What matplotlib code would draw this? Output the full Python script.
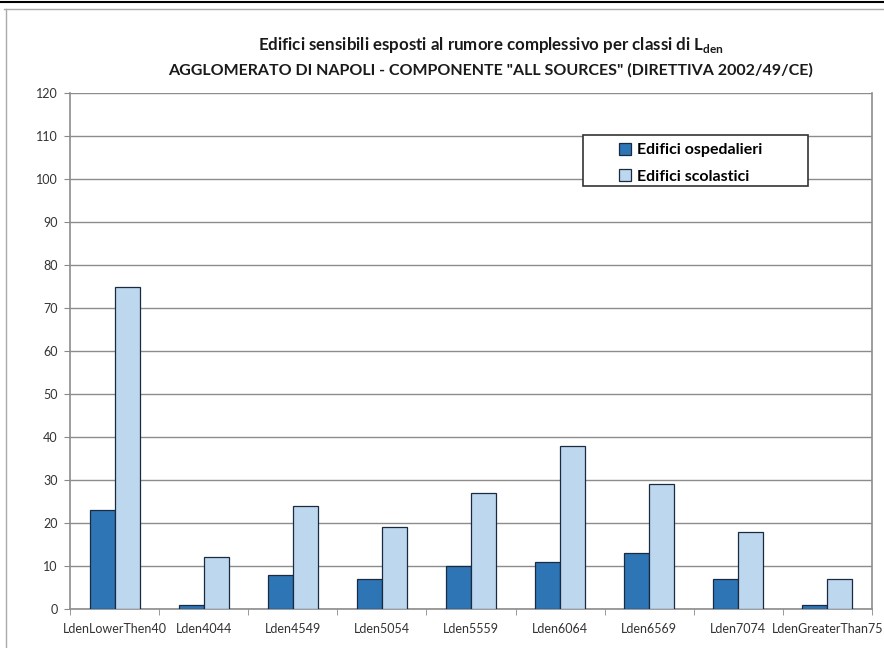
import numpy as np
import matplotlib
matplotlib.use('Agg')
import matplotlib.pyplot as plt
from matplotlib.lines import Line2D
from matplotlib.patches import Rectangle

plt.rcParams['font.family'] = ['Lato', 'DejaVu Sans']
plt.rcParams['mathtext.fontset'] = 'custom'
plt.rcParams['mathtext.rm'] = 'Lato'
plt.rcParams['mathtext.bf'] = 'Lato:bold'

classes = ['LdenLowerThen40', 'Lden4044', 'Lden4549', 'Lden5054', 'Lden5559',
           'Lden6064', 'Lden6569', 'Lden7074', 'LdenGreaterThan75']
ospedalieri = [23, 1, 8, 7, 10, 11, 13, 7, 1]
scolastici = [75, 12, 24, 19, 27, 38, 29, 18, 7]
yticks = list(range(0, 121, 10))

fig = plt.figure(figsize=(8.84, 6.48), dpi=100)
W, H = 884, 648
ax = fig.add_axes([70 / W, 1 - 609 / H, (872 - 70) / W, (609 - 93) / H])

x = np.arange(len(classes))
w = 0.28
ax.bar(x - w / 2, ospedalieri, w, color='#2e75b6', edgecolor='#1a2a40', linewidth=0.9,
       label='Edifici ospedalieri', zorder=3)
ax.bar(x + w / 2, scolastici, w, color='#bdd7ee', edgecolor='#1a2a40', linewidth=0.9,
       label='Edifici scolastici', zorder=3)

ax.set_xlim(-0.5, len(classes) - 0.5)
ax.set_ylim(0, 120)
ax.set_yticks(yticks)
ax.tick_params(axis='y', labelsize=9, colors='#333333', length=4, color='#888888', pad=5)
ax.yaxis.grid(True, color='#8c8c8c', linewidth=1.0, zorder=0)

ax.set_xticks(x)
ax.set_xticklabels(classes, fontsize=9, color='#333333')
ax.set_xticks(np.arange(-0.5, len(classes), 1.0), minor=True)
ax.tick_params(axis='x', which='major', length=0, pad=10)
ax.tick_params(axis='x', which='minor', length=4, color='#888888')

for s in ax.spines.values():
    s.set_color('#8c8c8c')
    s.set_linewidth(1.2)
ax.spines['top'].set_visible(False)

fig.text(491 / W, 1 - 45 / H,
         r'Edifici sensibili esposti al rumore complessivo per classi di L$_{\mathbf{den}}$',
         ha='center', va='center', fontsize=12.2, fontweight='bold', color='#1a1a1a')
fig.text(491 / W, 1 - 70 / H,
         'AGGLOMERATO DI NAPOLI - COMPONENTE "ALL SOURCES" (DIRETTIVA 2002/49/CE)',
         ha='center', va='center', fontsize=11.5, fontweight='bold', color='#1a1a1a')

# legend box drawn separately so the entries sit inset as in the original
ax.add_patch(Rectangle((0.6397, 0.8198), 0.2803, 0.0988, transform=ax.transAxes,
                       facecolor='white', edgecolor='#333333', linewidth=1.2, zorder=5))
leg = ax.legend(loc='upper left', bbox_to_anchor=(0.685, 0.903),
                prop={'weight': 'bold', 'size': 11.5}, frameon=False,
                borderpad=0, handlelength=0.75, handleheight=0.75, handletextpad=0.35,
                borderaxespad=0, labelspacing=0.75)
leg.set_zorder(6)

# outer frame of the screenshot
fig.add_artist(Line2D([0, 1], [1 - 1.5 / H, 1 - 1.5 / H], color='black', linewidth=1.5))
fig.add_artist(Line2D([4 / W, 1], [1 - 9 / H, 1 - 9 / H], color='#aaaaaa', linewidth=1.0))
fig.add_artist(Line2D([6 / W, 6 / W], [0, 1 - 9 / H], color='#aaaaaa', linewidth=1.0))

fig.savefig('out.png', dpi=100)
